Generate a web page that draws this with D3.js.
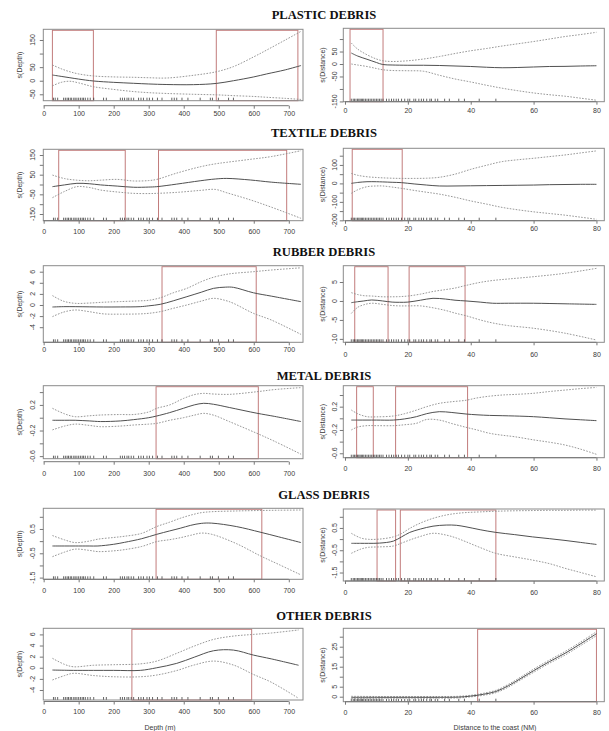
<!DOCTYPE html>
<html><head><meta charset="utf-8">
<script src="https://cdn.jsdelivr.net/npm/d3@7"></script>
<style>body{margin:0;background:#fff}</style>
</head><body>
<script>
// ---------- DATA ----------
const titles = ["PLASTIC DEBRIS","TEXTILE DEBRIS","RUBBER DEBRIS","METAL DEBRIS","GLASS DEBRIS","OTHER DEBRIS"];
const depthTicks = [0,100,200,300,400,500,600,700];
const distTicks = [0,20,40,60,80];
const depthRug = [28,33,40,57,62,67,71,76,80,86,90,95,100,105,110,114,119,126,133,143,171,179,219,225,231,238,243,250,257,271,278,285,295,302,311,325,338,366,373,380,395,412,447,476,482,499,528,542];
const distRug = [2,2.6,3,3.5,4,4.4,4.8,5.2,5.6,6,6.5,7,7.5,8,8.5,9,9.5,10,10.5,11,11.5,12.1,13.2,14,14.8,15.5,16.3,17,18,19,20,20.6,21.9,22.5,23.5,24.3,25,26,27,27.5,28.7,29.5,31.7,33.2,36.2,38,42.7,48];

// Plastic
const plasticDepthX = [25,50,75,100,142,200,257,300,352,428,493,542,600,637,690,735];
const plasticDepthFit = [21,16,11,6,-1,-6,-9.5,-12,-14,-14.5,-10,0,14,25,40,56];
const plasticDepthUpper = [58,44,33,25,17.5,14,12.6,11,10,20,33,52,88,113,150,182];
const plasticDepthLower = [-19,-6,-2,-8,-22,-32,-40,-44,-47,-50,-52,-55,-58,-61,-65,-69];
const plasticDistX = [2,4,7,10,12,15,20,25,30,35,40,45,50,55,60,65,70,75,80];
const plasticDistFit = [44,32,19,6,-2,-4,-5,-5,-6,-8,-10,-13,-15,-14,-12,-10,-9.5,-8,-7];
const plasticDistUpper = [84,60,37,20,13,10,13,20,30,42,53,62,72,81,90,100,110,118,127];
const plasticDistLower = [0,-4,-10,-18,-23,-26,-27,-29,-45,-60,-72,-85,-97,-107,-116,-123,-129,-137,-145];

// Textile
const textileDepthX = [25,60,95,130,162,210,257,300,323,380,447,490,523,590,650,735];
const textileDepthFit = [-11,-2,6,4,-2,-8,-14,-13,-11,2,19,28,31,23,12,1];
const textileDepthUpper = [48,30,22,19,22,26,18,20,26,58,90,105,113,128,142,172];
const textileDepthLower = [-67,-35,-11,-15,-28,-38,-45,-46,-45,-40,-30,-25,-42,-78,-115,-172];
const textileDistX = [2,4,7,10,12,15,18,22,26,30,35,40,45,50,55,60,65,70,75,80];
const textileDistFit = [0,5,9,9,8,6,4,-3,-9,-14,-14,-13,-12,-11,-10,-9,-7,-6,-5,-5];
const textileDistUpper = [54,44,36,32,30,28,27,27,28,33,50,76,98,118,128,136,145,154,165,176];
const textileDistLower = [-54,-35,-18,-14,-14,-20,-27,-38,-48,-58,-75,-95,-112,-130,-143,-154,-163,-172,-183,-194];

// Rubber
const rubberDepthX = [25,56,90,130,171,220,276,300,333,370,409,450,485,520,542,599,650,735];
const rubberDepthFit = [-0.36,-0.3,-0.3,-0.33,-0.36,-0.35,-0.3,-0.15,0.12,0.75,1.5,2.3,3.0,3.22,3.18,2.2,1.6,0.6];
const rubberDepthUpper = [1.7,0.7,0.3,0.35,0.5,0.62,0.75,0.85,1.3,2.2,3.0,4.2,5.0,5.5,5.7,6.0,6.3,6.7];
const rubberDepthLower = [-2.1,-1.3,-0.9,-1.2,-1.6,-1.65,-1.6,-1.5,-1.2,-0.6,0,0.7,1.2,0.8,0.3,-1.5,-2.7,-5.3];
const rubberDistX = [2,4,6,8.5,12,15,17.4,20,24,28,32,35,38.5,43,47,52,60,70,80];
const rubberDistFit = [-0.45,-0.2,0,0.26,0,-0.3,-0.35,-0.3,0.2,0.7,0.5,0.2,0,-0.3,-0.6,-0.6,-0.6,-0.75,-0.9];
const rubberDistUpper = [2.2,1.7,1.4,1.3,1.1,1.1,1.15,1.3,1.8,2.5,3.0,3.4,4.1,4.9,5.4,5.8,6.4,7.3,8.6];
const rubberDistLower = [-3.3,-1.7,-1.0,-0.6,-0.9,-1.2,-1.3,-1.3,-1.3,-1.8,-2.5,-3.2,-3.9,-5.0,-5.8,-6.5,-7.2,-8.5,-10.3];

// Metal
const metalDepthX = [25,60,90,130,162,220,257,300,323,360,399,430,457,485,530,609,660,735];
const metalDepthFit = [-0.04,-0.04,-0.04,-0.05,-0.06,-0.05,-0.03,0.0,0.027,0.08,0.147,0.2,0.225,0.21,0.16,0.07,0.02,-0.06];
const metalDepthUpper = [0.147,0.06,0.016,0.03,0.042,0.05,0.05,0.09,0.147,0.2,0.3,0.36,0.38,0.37,0.365,0.406,0.44,0.47];
const metalDepthLower = [-0.19,-0.13,-0.1,-0.12,-0.14,-0.13,-0.114,-0.1,-0.088,-0.04,0.0,0.04,0.068,0.04,-0.06,-0.244,-0.37,-0.57];
const metalDistX = [2,4,7,10,15.4,19,22.7,26,30,34,38.5,42,46,50,54,60,65,70,75,80];
const metalDistFit = [-0.03,-0.03,-0.03,-0.03,-0.03,-0.01,0.028,0.08,0.114,0.1,0.074,0.06,0.05,0.045,0.04,0.028,0.01,-0.01,-0.025,-0.04];
const metalDistUpper = [0.143,0.08,0.028,0.025,0.04,0.08,0.14,0.2,0.257,0.285,0.31,0.35,0.38,0.4,0.41,0.43,0.46,0.485,0.51,0.53];
const metalDistLower = [-0.2,-0.15,-0.126,-0.126,-0.126,-0.11,-0.086,-0.02,-0.03,-0.09,-0.154,-0.2,-0.257,-0.29,-0.316,-0.37,-0.41,-0.458,-0.53,-0.618];

// Glass
const glassDepthX = [25,60,90,130,155,200,231,280,323,360,390,420,450,480,550,618,670,735];
const glassDepthFit = [-0.2,-0.2,-0.2,-0.2,-0.2,-0.13,-0.05,0.1,0.28,0.42,0.53,0.65,0.73,0.74,0.6,0.37,0.18,-0.06];
const glassDepthUpper = [0.23,0.05,-0.06,0.0,0.08,0.15,0.2,0.32,0.6,0.78,0.94,1.07,1.17,1.21,1.24,1.26,1.27,1.28];
const glassDepthLower = [-0.64,-0.45,-0.33,-0.38,-0.43,-0.4,-0.35,-0.22,-0.02,0.06,0.14,0.24,0.33,0.28,-0.1,-0.6,-0.95,-1.39];
const glassDistX = [2,5,7.5,11,15.4,18,20.6,24,28,32.2,35.4,38.5,43,48,54,59.6,65,70,75,80];
const glassDistFit = [-0.19,-0.19,-0.19,-0.18,-0.09,0.1,0.3,0.45,0.58,0.63,0.62,0.55,0.42,0.3,0.2,0.1,0.02,-0.06,-0.15,-0.24];
const glassDistUpper = [0.26,0.05,-0.01,0.0,0.1,0.25,0.48,0.72,0.93,1.08,1.15,1.19,1.22,1.25,1.27,1.28,1.29,1.29,1.3,1.3];
const glassDistLower = [-0.64,-0.45,-0.37,-0.35,-0.31,-0.18,-0.04,0.12,0.26,0.18,0.05,-0.12,-0.38,-0.64,-0.8,-0.94,-1.1,-1.31,-1.5,-1.69];

// Other
const otherDepthX = [25,60,85,142,200,276,323,380,430,485,542,599,650,728];
const otherDepthFit = [-0.41,-0.45,-0.47,-0.47,-0.47,-0.47,0.0,0.79,1.9,3.06,3.18,2.28,1.6,0.45];
const otherDepthUpper = [1.7,0.6,0.18,0.45,0.55,0.7,1.2,2.6,3.9,5.1,5.7,6.0,6.25,6.8];
const otherDepthLower = [-2.2,-1.4,-1.0,-1.4,-1.62,-1.62,-1.31,-0.5,0.5,1.2,0.49,-1.2,-2.6,-5.5];
const otherDistX = [2,10,20,30,36,40,44,48,52,56,60,65,70,75,80];
const otherDistFit = [-0.3,-0.3,-0.3,-0.3,-0.2,0.3,1.2,2.6,5.5,9.2,13,17.5,21.7,26.5,31.5];
const otherDistUpper = [0.2,0.1,0.1,0.1,0.2,0.7,1.7,3.2,6.2,9.9,13.8,18.3,22.6,27.4,32.5];
const otherDistLower = [-0.8,-0.7,-0.7,-0.7,-0.6,-0.1,0.7,2.0,4.8,8.5,12.2,16.7,20.8,25.6,30.5];

// Highlighted ranges (x extents)
const plasticDepthBoxes = [[25,142],[493,726]];
const plasticDistBoxes = [[1.6,12.1]];
const textileDepthBoxes = [[43,233],[328,694]];
const textileDistBoxes = [[2.3,18.2]];
const rubberDepthBoxes = [[338,607]];
const rubberDistBoxes = [[3.1,13.7],[20.4,38.2]];
const metalDepthBoxes = [[321,613]];
const metalDistBoxes = [[3.7,9.0],[16.1,39.0]];
const glassDepthBoxes = [[321,623]];
const glassDistBoxes = [[10.2,16.1],[17.6,48.0]];
const otherDepthBoxes = [[252,594]];
const otherDistBoxes = [[42.2,80.0]];

// ---------- LAYOUT ----------
const titleY = [15, 133, 252, 375.5, 494.7, 615.7];
const panels = [
 {row:0, side:"L", x:plasticDepthX, fit:plasticDepthFit, up:plasticDepthUpper, lo:plasticDepthLower, boxes:plasticDepthBoxes, yDom:[-73.6,189.4], yTicks:[-50,0,50,100,150], yLab:[-50,0,50,150], top:29.3, bottom:100.7, axisOff:5, labOff:12.5},
 {row:0, side:"R", x:plasticDistX, fit:plasticDistFit, up:plasticDistUpper, lo:plasticDistLower, boxes:plasticDistBoxes, yDom:[-151,143], yTicks:[-150,-100,-50,0,50,100], yLab:[-150,-50,0,50], top:28.3, bottom:101.7, axisOff:0, labOff:8.5},
 {row:1, side:"L", x:textileDepthX, fit:textileDepthFit, up:textileDepthUpper, lo:textileDepthLower, boxes:textileDepthBoxes, yDom:[-184,179], yTicks:[-150,-100,-50,0,50,100,150], yLab:[-150,-50,50,150], top:149.3, bottom:220.7, axisOff:0, labOff:11},
 {row:1, side:"R", x:textileDistX, fit:textileDistFit, up:textileDistUpper, lo:textileDistLower, boxes:textileDistBoxes, yDom:[-202,190], yTicks:[-200,-150,-100,-50,0,50,100,150], yLab:[-200,-100,0,100], top:148.3, bottom:220.7, axisOff:0, labOff:7.5},
 {row:2, side:"L", x:rubberDepthX, fit:rubberDepthFit, up:rubberDepthUpper, lo:rubberDepthLower, boxes:rubberDepthBoxes, yDom:[-6.72,7.08], yTicks:[-4,-2,0,2,4,6], yLab:[-4,-2,0,2,4,6], top:265.7, bottom:342.3, axisOff:0, labOff:7.5},
 {row:2, side:"R", x:rubberDistX, fit:rubberDistFit, up:rubberDistUpper, lo:rubberDistLower, boxes:rubberDistBoxes, yDom:[-10.9,9.3], yTicks:[-10,-5,0,5], yLab:[-10,-5,0,5], top:265.7, bottom:342.3, axisOff:0, labOff:12},
 {row:3, side:"L", x:metalDepthX, fit:metalDepthFit, up:metalDepthUpper, lo:metalDepthLower, boxes:metalDepthBoxes, yDom:[-0.64,0.5], yTicks:[-0.6,-0.4,-0.2,0,0.2,0.4], yLab:[-0.6,-0.2,0.2], top:385.7, bottom:458.7, axisOff:3, labOff:14.5},
 {row:3, side:"R", x:metalDistX, fit:metalDistFit, up:metalDistUpper, lo:metalDistLower, boxes:metalDistBoxes, yDom:[-0.676,0.56], yTicks:[-0.6,-0.4,-0.2,0,0.2,0.4], yLab:[-0.6,-0.2,0.2], top:385.7, bottom:457.7, axisOff:0, labOff:10.5},
 {row:4, side:"L", x:glassDepthX, fit:glassDepthFit, up:glassDepthUpper, lo:glassDepthLower, boxes:glassDepthBoxes, yDom:[-1.57,1.35], yTicks:[-1.5,-1,-0.5,0,0.5,1], yLab:[-1.5,-0.5,0.5], top:508.3, bottom:579.3, axisOff:0, labOff:11.5},
 {row:4, side:"R", x:glassDistX, fit:glassDistFit, up:glassDistUpper, lo:glassDistLower, boxes:glassDistBoxes, yDom:[-1.88,1.35], yTicks:[-1.5,-1,-0.5,0,0.5,1], yLab:[-1.5,-0.5,0.5], top:509, bottom:581, axisOff:0, labOff:11.5},
 {row:5, side:"L", x:otherDepthX, fit:otherDepthFit, up:otherDepthUpper, lo:otherDepthLower, boxes:otherDepthBoxes, yDom:[-5.8,7.1], yTicks:[-4,-2,0,2,4,6], yLab:[-4,-2,0,2,4,6], top:628.3, bottom:700, axisOff:1.5, labOff:12},
 {row:5, side:"R", x:otherDistX, fit:otherDistFit, up:otherDistUpper, lo:otherDistLower, boxes:otherDistBoxes, yDom:[-2.5,34.2], yTicks:[0,5,10,15,20,25,30], yLab:[0,5,15,25], top:628.3, bottom:701.7, axisOff:0, labOff:10.5}
];

const W = 609, H = 731;
const svg = d3.select("body").append("svg").attr("width", W).attr("height", H);
svg.append("rect").attr("width", W).attr("height", H).attr("fill", "#fff");

const sans = "'Liberation Sans', Arial, sans-serif";
const txtCol = "#3a3a3a";

titles.forEach((t, i) => {
  svg.append("text").attr("x", 324).attr("y", titleY[i]).attr("text-anchor", "middle")
    .attr("dominant-baseline", "central")
    .attr("font-family", "'Liberation Serif', 'Times New Roman', serif")
    .attr("font-weight", "bold").attr("font-size", "12.6px").attr("fill", "#111").text(t);
});

panels.forEach(p => {
  const isL = p.side === "L";
  const x0 = isL ? 43.3 : 343.3, x1 = isL ? 303 : 604.3;
  const xs = d3.scaleLinear().domain(isL ? [-1, 740.6] : [-0.54, 82.5]).range([x0, x1]);
  const ys = d3.scaleLinear().domain(p.yDom).range([p.bottom, p.top]);
  const g = svg.append("g");

  // highlight rectangles
  p.boxes.forEach(b => {
    g.append("rect").attr("x", xs(b[0])).attr("y", p.top + 1)
      .attr("width", xs(b[1]) - xs(b[0])).attr("height", p.bottom - p.top - 1)
      .attr("fill", "none").attr("stroke", "#c27c7c").attr("stroke-width", 1);
  });

  const line = (ys2) => d3.line().x((d, i) => xs(p.x[i])).y(d => ys(d)).curve(d3.curveCatmullRom.alpha(0.5))(ys2);
  g.append("path").attr("d", line(p.up)).attr("fill", "none").attr("stroke", "#8c8c8c")
    .attr("stroke-width", 0.9).attr("stroke-dasharray", "1.6,1.4");
  g.append("path").attr("d", line(p.lo)).attr("fill", "none").attr("stroke", "#8c8c8c")
    .attr("stroke-width", 0.9).attr("stroke-dasharray", "1.6,1.4");
  g.append("path").attr("d", line(p.fit)).attr("fill", "none").attr("stroke", "#505050")
    .attr("stroke-width", 1);

  // rug
  const rug = isL ? depthRug : distRug;
  g.selectAll(null).data(rug).enter().append("line")
    .attr("x1", d => xs(d)).attr("x2", d => xs(d))
    .attr("y1", p.bottom).attr("y2", p.bottom - 3)
    .attr("stroke", "#222").attr("stroke-width", 0.7);

  // box
  g.append("rect").attr("x", x0).attr("y", p.top).attr("width", x1 - x0).attr("height", p.bottom - p.top)
    .attr("fill", "none").attr("stroke", "#8a8a8a").attr("stroke-width", 1);

  // x axis
  const ticks = isL ? depthTicks : distTicks;
  const ay = p.bottom + p.axisOff;
  const ax = g.append("g").attr("transform", `translate(0,${ay})`)
    .call(d3.axisBottom(xs).tickValues(ticks).tickSize(3).tickFormat(d3.format("d")));
  ax.select(".domain").remove();
  ax.append("line").attr("x1", xs(ticks[0])).attr("x2", xs(ticks[ticks.length - 1]))
    .attr("y1", 0).attr("y2", 0).attr("stroke", "#777");
  ax.selectAll(".tick line").attr("stroke", "#777");
  ax.selectAll(".tick text").attr("y", p.labOff - p.axisOff).attr("dy", "0.35em")
    .attr("font-family", sans).attr("font-size", "7px").attr("fill", txtCol);

  // y axis
  const yax = g.append("g").attr("transform", `translate(${x0},0)`)
    .call(d3.axisLeft(ys).tickValues(p.yTicks).tickSize(3.5).tickFormat(""));
  yax.select(".domain").remove();
  yax.selectAll(".tick line").attr("stroke", "#777");
  const off = isL ? 10.5 : 9;
  p.yLab.forEach(v => {
    g.append("text").attr("transform", `translate(${x0 - off},${ys(v)}) rotate(-90)`)
      .attr("text-anchor", "middle").attr("dy", "0.35em")
      .attr("font-family", sans).attr("font-size", "7px").attr("fill", txtCol).text(String(v));
  });
  g.append("text").attr("transform", `translate(${isL ? 20 : 322.7},${(p.top + p.bottom) / 2}) rotate(-90)`)
    .attr("text-anchor", "middle").attr("dy", "0.35em")
    .attr("font-family", sans).attr("font-size", "7px").attr("fill", txtCol)
    .text(isL ? "s(Depth)" : "s(Distance)");
});

svg.append("text").attr("x", 160).attr("y", 727).attr("text-anchor", "middle").attr("dominant-baseline", "central")
  .attr("font-family", sans).attr("font-size", "7px").attr("fill", txtCol).text("Depth (m)");
svg.append("text").attr("x", 495).attr("y", 727).attr("text-anchor", "middle").attr("dominant-baseline", "central")
  .attr("font-family", sans).attr("font-size", "7px").attr("fill", txtCol).text("Distance to the coast (NM)");
</script>
</body></html>
